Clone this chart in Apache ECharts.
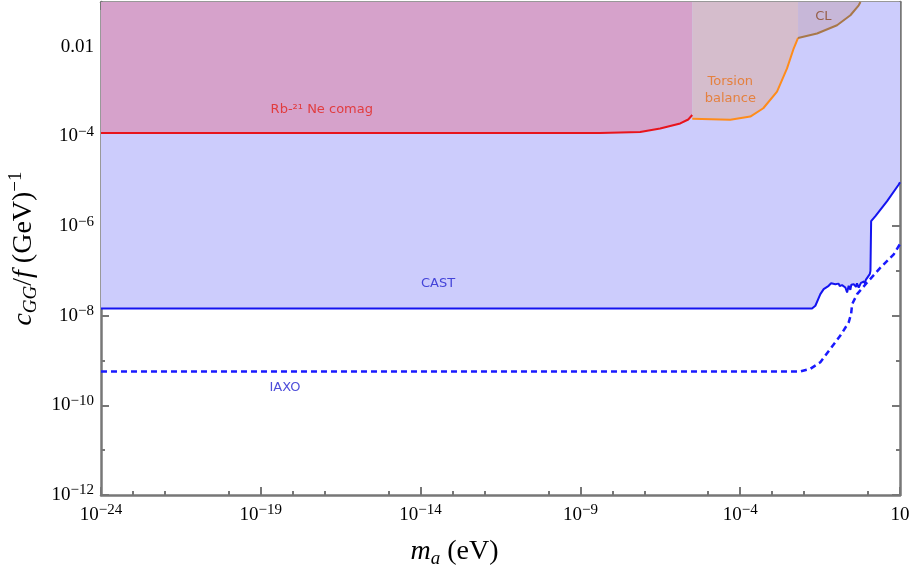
<!DOCTYPE html>
<html><head><meta charset="utf-8">
<script src="https://cdn.jsdelivr.net/npm/echarts@6/dist/echarts.min.js"></script>
<style>html,body{margin:0;padding:0;background:#fff}#c{width:912px;height:566px}</style>
</head><body><div id="c"></div>
<script>
const X_MIN = 1e-24, X_MAX = 10, Y_MIN = 1e-12, Y_MAX = 0.1;
const X_MAJOR = [1e-24, 1e-19, 1e-14, 1e-9, 1e-4, 10];
const X_MINOR = [1e-23,1e-22,1e-20,1e-18,1e-17,1e-15,1e-13,1e-12,1e-10,1e-8,1e-7,1e-5,1e-3,1e-2,1];
const Y_MAJOR = [1e-12, 1e-10, 1e-8, 1e-6, 1e-4, 1e-2];
const Y_MINOR = [1e-11, 1e-9, 1e-7, 1e-5, 1e-3];

const castLine = [[1e-24,1.45e-8],[0.0177,1.45e-8],[0.0225,1.67e-8],[0.0322,3.03e-8],[0.0409,3.92e-8],
  [0.0586,4.65e-8],[0.07,5.3e-8],[0.08,4.8e-8],[0.0951,5.06e-8],[0.12,5.2e-8],[0.13,4.6e-8],[0.154,4.81e-8],
  [0.17,5.0e-8],[0.195,4.26e-8],[0.221,3.3e-8],[0.248,4.65e-8],[0.28,3.8e-8],[0.3,4.9e-8],[0.356,5.06e-8],
  [0.42,4.4e-8],[0.45,5.3e-8],[0.511,4.26e-8],[0.55,4.0e-8],[0.6,5.4e-8],[0.652,5.5e-8],[0.75,5.8e-8],
  [0.8,5.2e-8],[0.85,6.3e-8],[0.935,6.55e-8],[1.13,8.45e-8],[1.19,1.0e-7],[1.25,1.29e-6],[1.70,1.67e-6],
  [3.95,3.6e-6],[9.14,8.45e-6],[10,9.5e-6]];
const iaxoLine = [[1e-24,5.7e-10],[0.00755,5.7e-10],[0.01567,6.55e-10],[0.0322,9.16e-10],[0.0662,1.82e-9],
  [0.136,3.6e-9],[0.248,7.1e-9],[0.295,1.09e-8],[0.318,1.82e-8],[0.455,3.03e-8],[0.935,5.5e-8],
  [2.44,1.18e-7],[6.37,2.35e-7],[10,3.98e-7]];
const rbLine = [[1e-24,1.2e-4],[4.14e-9,1.2e-4],[7.41e-8,1.26e-4],[3.13e-7,1.51e-4],[1.33e-6,1.95e-4],
  [2.37e-6,2.39e-4],[3.16e-6,3.01e-4]];
const torsionLine = [[3.16e-6,2.47e-4],[4.9e-5,2.35e-4],[2.07e-4,2.78e-4],[5.28e-4,4.26e-4],[1.42e-3,1e-3],
  [2.92e-3,3.3e-3],[4.71e-3,9.16e-3],[6.46e-3,0.0158]];
const clLine = [[6.46e-3,0.0158],[0.0254,0.0198],[0.107,0.0303],[0.281,0.0506],[0.511,0.0845],[0.58,0.1]];

const labelTexts = ['Rb-²¹ Ne comag','Torsion\nbalance','CL','CAST','IAXO'];
const labelPos = [[8.1e-18,4e-4],[4.9e-5,1.1e-3],[0.04,0.046],[3.5e-14,5.1e-8],[5.7e-19,2.5e-10]];
const labelColors = ['#e3231c','#e8721c','#8a4a26','#2020d0','#2020d0'];

const GREY = '#777777';
const chart = echarts.init(document.getElementById('c'), null, {renderer:'canvas'});

function xFmt(v){ const e = Math.round(Math.log10(v)); if (e === 1) return '{n|10}'; return '{n|10}{s|−' + (-e) + '}'; }
function yFmt(v){ const e = Math.round(Math.log10(v)); if (e === -2) return '{n|0.01}'; return '{n|10}{s|−' + (-e) + '}'; }
const richNum = { n:{fontFamily:'Liberation Serif', fontSize:19, color:'#000', lineHeight:24},
                  s:{fontFamily:'Liberation Serif', fontSize:15, color:'#000', verticalAlign:'top', lineHeight:24} };

function xAx(pos, ticks, len, main, line){
  return { type:'log', logBase:10, min:X_MIN, max:X_MAX, position:pos, gridIndex:0,
    axisLine:{show:line, onZero:false, lineStyle:{color:GREY, width:2.5}},
    axisTick:{show:true, inside:true, length:len, customValues:ticks, lineStyle:{color:GREY, width:2}},
    axisLabel: main ? {show:true, customValues:X_MAJOR, formatter:xFmt, rich:richNum, margin:8} : {show:false},
    splitLine:{show:false}, minorTick:{show:false},
    name: main ? '{i|m}{sb|a}{n| (eV)}' : '', nameLocation:'middle', nameGap:41,
    nameTextStyle:{padding:[0,92,0,0], rich:{i:{fontFamily:'Liberation Serif', fontStyle:'italic', fontSize:28, color:'#000', lineHeight:32},
      sb:{fontFamily:'Liberation Serif', fontStyle:'italic', fontSize:19, color:'#000', verticalAlign:'bottom', lineHeight:32},
      n:{fontFamily:'Liberation Serif', fontSize:28, color:'#000', lineHeight:32}}} };
}
function yAx(pos, ticks, len, main, line){
  return { type:'log', logBase:10, min:Y_MIN, max:Y_MAX, position:pos, gridIndex:0,
    axisLine:{show:line, onZero:false, lineStyle:{color:GREY, width:2.5}},
    axisTick:{show:true, inside:true, length:len, customValues:ticks, lineStyle:{color:GREY, width:2}},
    axisLabel: main ? {show:true, customValues:Y_MAJOR, formatter:yFmt, rich:richNum, margin:7} : {show:false},
    splitLine:{show:false}, minorTick:{show:false},
    name: main ? '{i|c}{sb|GG}{n|/}{i|f}{n| (GeV)}{sp|−1}' : '', nameLocation:'middle', nameGap:58, nameRotate:90,
    nameTextStyle:{rich:{i:{fontFamily:'Liberation Serif', fontStyle:'italic', fontSize:28, color:'#000', lineHeight:34},
      sb:{fontFamily:'Liberation Serif', fontStyle:'italic', fontSize:19, color:'#000', verticalAlign:'bottom', lineHeight:34},
      n:{fontFamily:'Liberation Serif', fontSize:28, color:'#000', lineHeight:34},
      sp:{fontFamily:'Liberation Serif', fontSize:19, color:'#000', verticalAlign:'top', lineHeight:34}}} };
}

function area(data, lineColor, fill, width, z){
  return { type:'line', data:data, xAxisIndex:0, yAxisIndex:0, showSymbol:false, symbol:'none',
    lineStyle:{color:lineColor, width:width}, areaStyle:{color:fill, opacity:1, origin:Y_MAX}, z:z, silent:true, clip:true };
}

chart.setOption({
  animation:false,
  backgroundColor:'#ffffff',
  grid:{left:101, right:12, top:2, bottom:71, containLabel:false, outerBoundsMode:'none'},
  xAxis:[xAx('bottom', X_MAJOR, 8, true, true), xAx('bottom', X_MINOR, 4, false, false),
         xAx('top', X_MAJOR, 8, false, true), xAx('top', X_MINOR, 4, false, false)],
  yAxis:[yAx('left', Y_MAJOR, 8, true, true), yAx('left', Y_MINOR, 4, false, false),
         yAx('right', Y_MAJOR, 8, false, true), yAx('right', Y_MINOR, 4, false, false)],
  series:[
    area(castLine, '#1414f0', '#ccccfc', 2, 1),
    area(rbLine, '#e8141c', '#d6a2cb', 2, 2),
    area(torsionLine, '#ff8c1a', '#d5bdcc', 2, 2),
    area(clLine, '#a8784a', '#c7b7d8', 2, 2),
    { type:'line', data:iaxoLine, showSymbol:false, symbol:'none', z:3,
      lineStyle:{color:'#1a1aff', width:2.5, type:[6,4]} },
    { type:'scatter', z:5, symbolSize:1, itemStyle:{color:'rgba(0,0,0,0)'}, silent:true,
      data: labelTexts.map((t,i)=>({ value:labelPos[i],
        label:{show:true, position:'inside', formatter:t, color:labelColors[i],
          fontFamily:'DejaVu Sans', fontSize:13, lineHeight:17, align:'center'} })) }
  ]
});
</script></body></html>
